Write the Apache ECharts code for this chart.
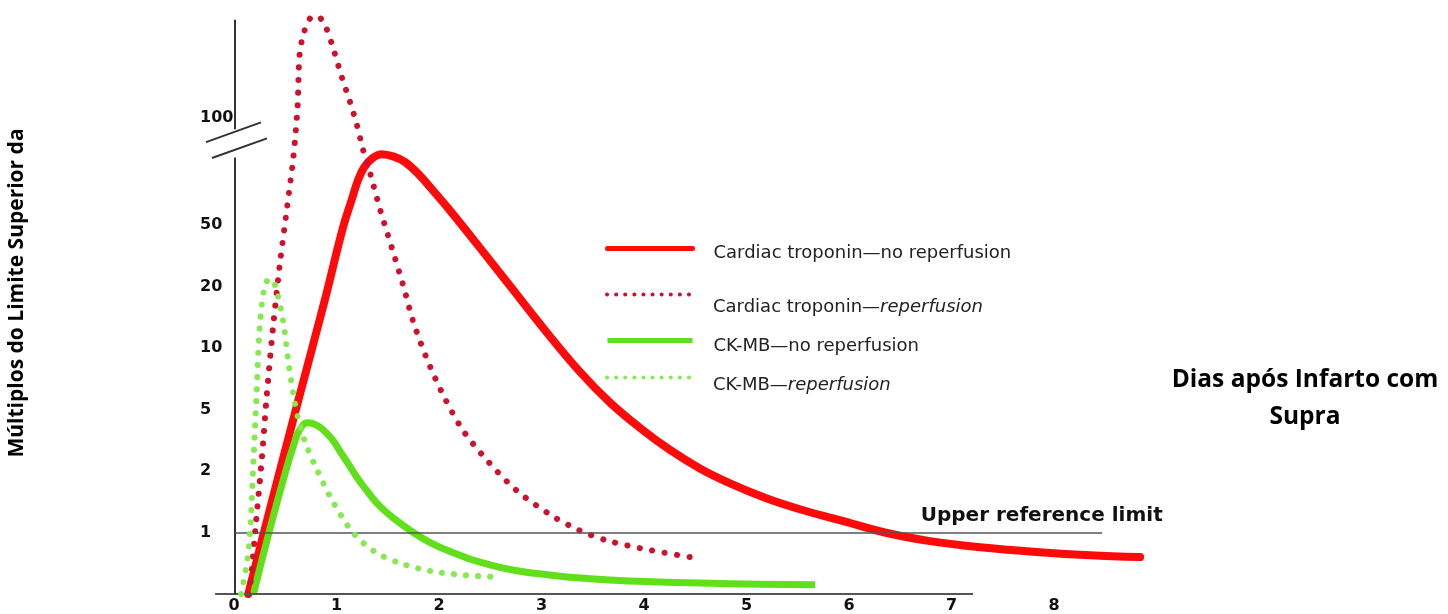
<!DOCTYPE html>
<html><head><meta charset="utf-8">
<script src="https://cdn.jsdelivr.net/npm/echarts@6/dist/echarts.min.js"></script>
<style>html,body{margin:0;padding:0;background:#fff}#c{width:1448px;height:614px}</style>
</head><body><div id="c"></div>
<script>
// ---- data (days after STEMI, multiples of upper reference limit) ----
const seriesNames = [
  'Cardiac troponin\u2014no reperfusion',
  'Cardiac troponin\u2014reperfusion',
  'CK-MB\u2014no reperfusion',
  'CK-MB\u2014reperfusion'
];
const tropNoRepDays = [0.14,0.29,0.60,0.89,1.06,1.15,1.21,1.27,1.35,1.44,1.56,1.67,1.80,1.93,2.11,2.40,2.69,3.03,3.38,3.67,3.96,4.25,4.55,4.84,5.18,5.52,5.91,6.35,6.79,7.28,7.86,8.35,8.84];
const tropNoRepVals = [0,0.99,4.9,17.5,47.3,59.1,66.8,72.6,76.9,78.9,77.7,75.0,69.4,63.0,54.8,35.6,20.3,12.3,7.6,5.4,3.81,2.75,2.07,1.74,1.48,1.30,1.15,1.0,0.86,0.76,0.68,0.63,0.60];
const tropRepDays = [0.14,0.16,0.21,0.27,0.32,0.38,0.45,0.52,0.58,0.62,0.64,0.68,0.74,0.79,0.84,0.90,0.98,1.05,1.13,1.20,1.26,1.33,1.43,1.54,1.65,1.75,1.88,2.04,2.23,2.47,2.76,3.10,3.36,3.64,4.07,4.53];
const tropRepVals = [0,0.16,1.06,2.34,5.9,12.5,28.9,56.6,77.9,107,150,172,189,192,190,178,152,130,111,95,81,69.5,54.7,35.6,20.4,13.4,8.9,5.9,3.7,2.34,1.6,1.21,1.03,0.87,0.71,0.58];
const ckNoRepDays = [0.19,0.34,0.50,0.59,0.64,0.72,0.80,0.87,0.96,1.03,1.12,1.20,1.31,1.42,1.57,1.75,1.91,2.08,2.25,2.40,2.72,3.08,3.38,3.86,4.55,5.13,5.67];
const ckNoRepVals = [0,0.99,1.96,3.05,3.69,4.10,3.98,3.69,3.19,2.71,2.20,1.86,1.57,1.35,1.16,1.0,0.84,0.71,0.60,0.52,0.39,0.31,0.26,0.21,0.18,0.16,0.15];
const ckRepDays = [0.07,0.13,0.16,0.19,0.22,0.25,0.30,0.35,0.40,0.48,0.53,0.58,0.63,0.69,0.79,0.96,1.16,1.38,1.64,1.93,2.23,2.53];
const ckRepVals = [0,0.55,1.06,2.34,5.9,12.5,20.4,22.5,20.4,13.5,8.6,5.9,4.24,3.13,2.17,1.43,1.0,0.68,0.49,0.37,0.31,0.28];
const xTickValues = [0,1,2,3,4,5,6,7,8];
const yTickValues = [0,1,2,5,10,20,50,100];
const yTickLabels = ['', '1','2','5','10','20','50','100'];
const upperReferenceLimit = 1;

// ---- broken, stepped y scale: each tick gets its own slot ----
const yTickSlots = [0,1,2,3,4,5,6,7.75];
function toSlot(v){
  if (v <= 1) return v;
  const n = yTickValues.length;
  for (let i = 1; i < n - 1; i++) {
    const a = yTickValues[i], b = yTickValues[i+1];
    if (v <= b) return yTickSlots[i] + (yTickSlots[i+1]-yTickSlots[i]) * Math.log(v/a)/Math.log(b/a);
  }
  const a = yTickValues[n-2], b = yTickValues[n-1];
  return yTickSlots[n-2] + (yTickSlots[n-1]-yTickSlots[n-2]) * Math.log(v/a)/Math.log(b/a);
}
const pairs = (d, v) => d.map((x, i) => [x, toSlot(v[i])]);

const colors = ['#ff0a0a', '#d0112b', '#5fe01a', '#86ea4e'];
const DOT_RED = [0.1, 12.5], DOT_GREEN = [0.1, 12];

const chart = echarts.init(document.getElementById('c'), null, {renderer: 'canvas'});

const axisSeg = (x1, y1, x2, y2, w, c) => [
  {coord: [x1, y1], lineStyle: {width: w, color: c, type: 'solid'}},
  {coord: [x2, y2]}
];

function legendFor(i, top, pad, lineStyle, italic) {
  const font = {fontFamily: 'DejaVu Sans', fontSize: 18, color: '#222'};
  return {
    left: 605, top: top, padding: 0, itemWidth: 85, itemHeight: 14,
    selectedMode: false, orient: 'horizontal',
    data: [seriesNames[i]],
    itemStyle: {opacity: 0},
    lineStyle: lineStyle,
    formatter: italic ? (name => '{n|' + name.replace('reperfusion','') + '}{i|reperfusion}') : undefined,
    textStyle: Object.assign({}, font, {
      padding: [pad, 0, 0, 16],
      rich: {n: Object.assign({}, font), i: Object.assign({}, font, {fontStyle: 'italic'})}
    })
  };
}

const option = {
  animation: false,
  backgroundColor: '#fff',
  grid: {left: 203.25, top: 3.72, width: 953.25, height: 593.28, containLabel: false},
  xAxis: {
    type: 'value', min: -0.3, max: 9,
    axisLine: {show: false}, axisTick: {show: false}, splitLine: {show: false},
    axisLabel: {
      customValues: xTickValues, margin: 4,
      fontFamily: 'DejaVu Sans', fontWeight: 'bold', fontSize: 16, color: '#111',
      formatter: v => String(v)
    }
  },
  yAxis: {
    type: 'value', min: 0, max: 9.6,
    axisLine: {show: false, onZero: false}, axisTick: {show: false}, splitLine: {show: false},
    axisLabel: {
      customValues: yTickSlots.slice(1), margin: 3.25, align: 'left',
      fontFamily: 'DejaVu Sans', fontWeight: 'bold', fontSize: 16, color: '#111',
      formatter: v => { const k = yTickSlots.findIndex(s => Math.abs(s - v) < 1e-6); return k >= 0 ? yTickLabels[k] : ''; }
    }
  },
  legend: [
    legendFor(0, 243, 10, {width: 5, type: 'solid', color: colors[0]}, false),
    legendFor(1, 289, 26, {width: 4, type: [0.1, 9], cap: 'round', color: colors[1]}, true),
    legendFor(2, 335, 12, {width: 5, type: 'solid', color: colors[2]}, false),
    legendFor(3, 372, 16, {width: 4, type: [0.1, 9], cap: 'round', color: colors[3]}, true)
  ],
  graphic: [
    {type: 'text', x: 17, y: 293, rotation: Math.PI / 2, silent: true,
     style: {text: 'Múltiplos do Limite Superior da', font: 'bold 21px "Open Sans"', fill: '#000', align: 'center', verticalAlign: 'middle'}},
    {type: 'text', x: 1305, y: 399, silent: true,
     style: {text: 'Dias após Infarto com\nSupra', font: 'bold 24.5px "Open Sans"', fill: '#000', align: 'center', verticalAlign: 'middle', lineHeight: 37}}
  ],
  series: [
    {
      name: 'axes', type: 'line', data: [], silent: true, z: 1,
      markLine: {
        silent: true, symbol: ['none', 'none'], label: {show: false}, animation: false,
        emphasis: {disabled: true},
        data: [
          axisSeg(-0.185, 0, 7.21, 0, 2, '#555'),
          axisSeg(0.01, 0, 0.01, 7.10, 2, '#333'),
          axisSeg(0.01, 7.56, 0.01, 9.34, 2, '#333'),
          axisSeg(-0.273, 7.35, 0.263, 7.67, 2, '#333'),
          axisSeg(-0.215, 7.09, 0.322, 7.41, 2, '#333'),
          axisSeg(0.01, toSlot(upperReferenceLimit), 8.47, toSlot(upperReferenceLimit), 1.6, '#555')
        ]
      },
      markPoint: {
        silent: true, symbolSize: 0, animation: false,
        label: {show: true, position: 'inside', offset: [0, -17], formatter: 'Upper reference limit',
                fontFamily: 'DejaVu Sans', fontWeight: 'bold', fontSize: 20, color: '#111'},
        data: [{coord: [7.88, toSlot(upperReferenceLimit)]}]
      }
    },
    {name: seriesNames[0], type: 'line', z: 2, data: pairs(tropNoRepDays, tropNoRepVals), smooth: 0.4,
     showSymbol: false, symbol: 'none', color: colors[0],
     lineStyle: {width: 8, color: colors[0], join: 'round', cap: 'round'}},
    {name: seriesNames[2], type: 'line', z: 3, data: pairs(ckNoRepDays, ckNoRepVals), smooth: 0.5,
     showSymbol: false, symbol: 'none', color: colors[2],
     lineStyle: {width: 7, color: colors[2], join: 'round', cap: 'butt'}},
    {name: seriesNames[1], type: 'line', z: 4, data: pairs(tropRepDays, tropRepVals), smooth: 0.3,
     showSymbol: false, symbol: 'none', color: colors[1],
     lineStyle: {width: 6, color: colors[1], type: DOT_RED, cap: 'round'}},
    {name: seriesNames[3], type: 'line', z: 5, data: pairs(ckRepDays, ckRepVals), smooth: 0.3,
     showSymbol: false, symbol: 'none', color: colors[3],
     lineStyle: {width: 6, color: colors[3], type: DOT_GREEN, cap: 'round'}}
  ]
};
chart.setOption(option);
</script>
</body></html>
